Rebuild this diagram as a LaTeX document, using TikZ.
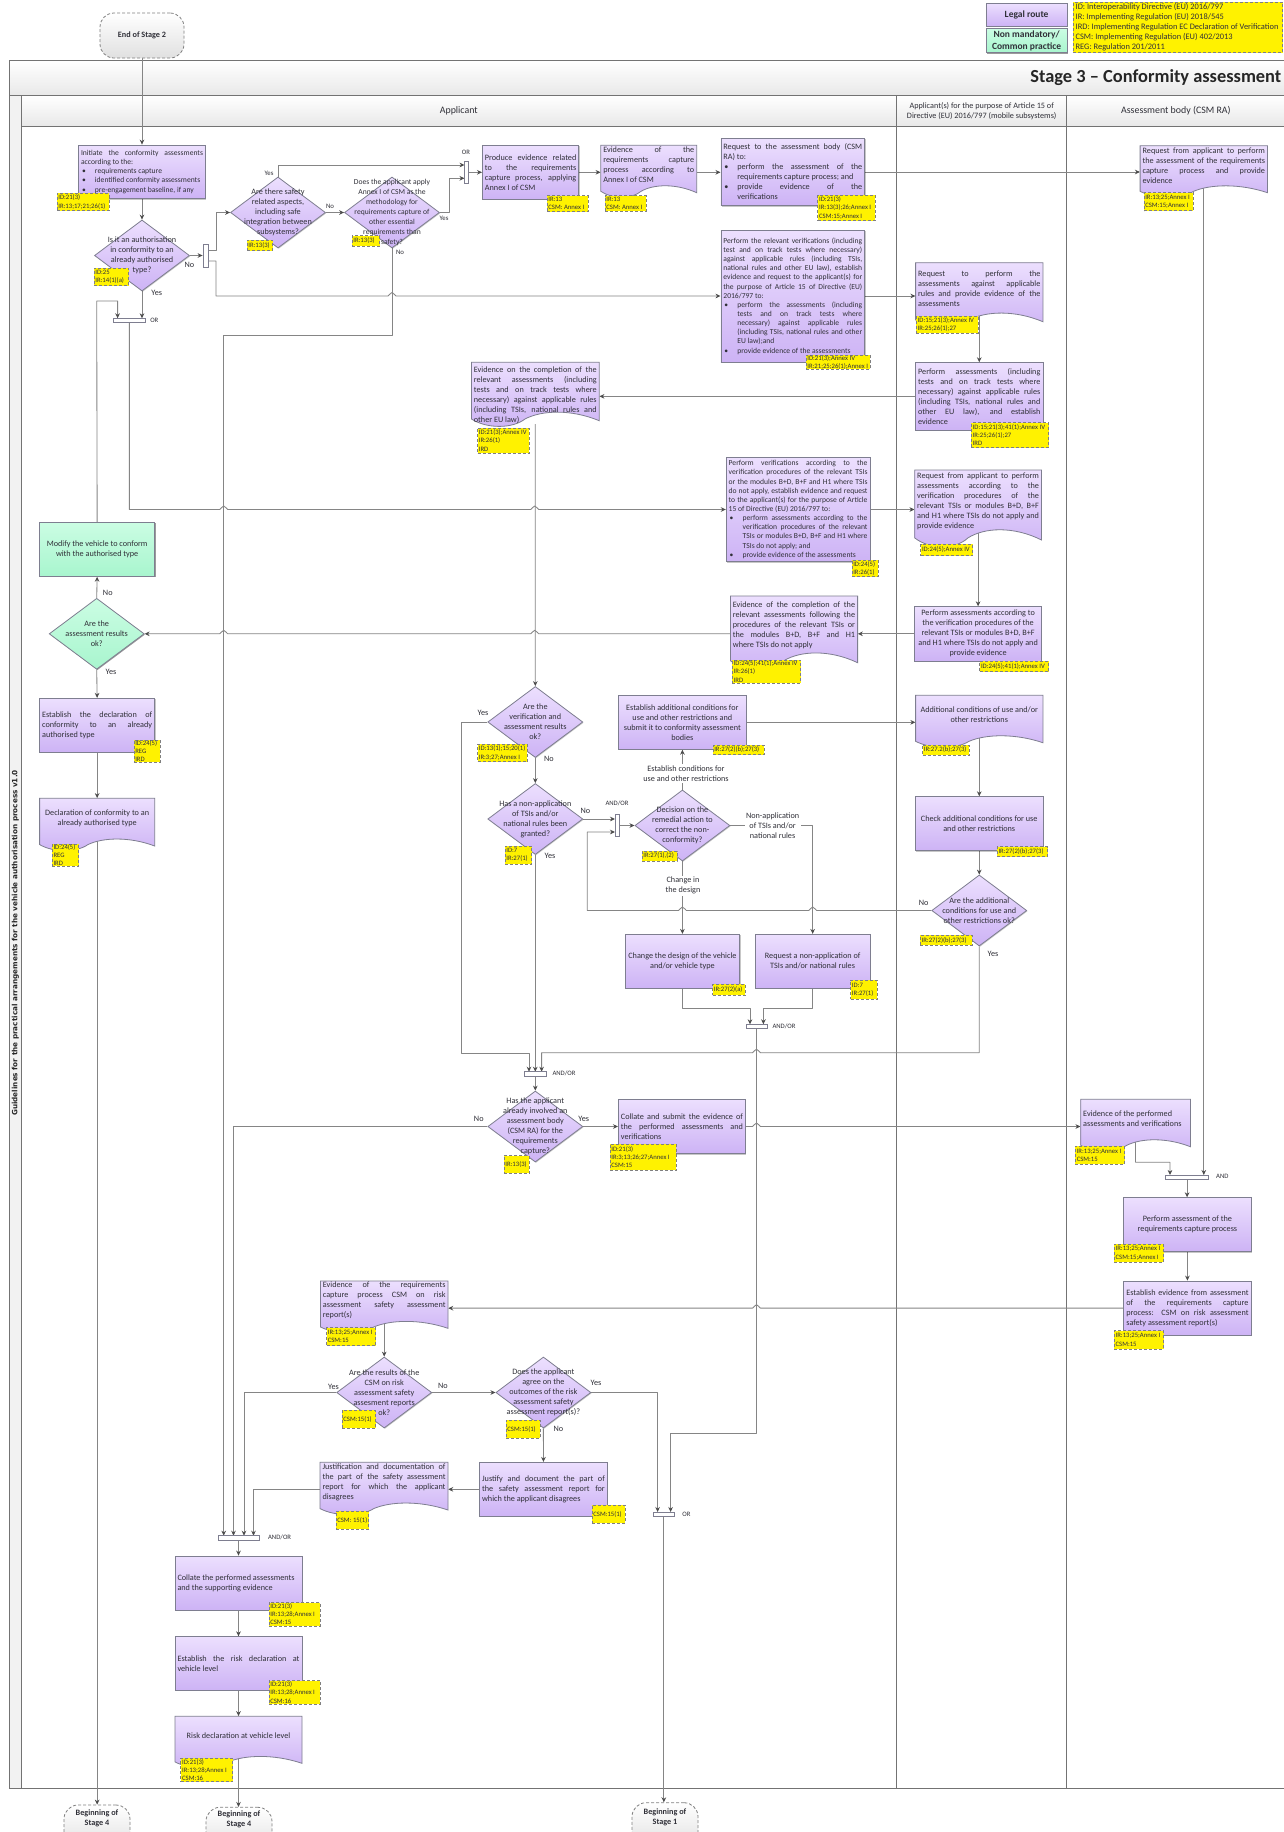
\documentclass[tikz,border=0pt]{standalone}
\usepackage{fontspec}
\setmainfont{Carlito}
\newfontfamily\rotfont{DejaVu Sans}
\usetikzlibrary{arrows.meta,shapes.geometric,shadows}
\pgfdeclarelayer{bgl}\pgfdeclarelayer{conl}\pgfsetlayers{bgl,conl,main}
\hyphenpenalty=10000 \exhyphenpenalty=10000 \tolerance=9999 \hbadness=10000 \hfuzz=30pt
\newcommand\fBody{\fontsize{8.2}{10}\selectfont}
\newcommand\fTight{\fontsize{7.6}{9.15}\selectfont}
\newcommand\fTag{\fontsize{6.7}{8.2}\selectfont}
\newcommand\fGate{\fontsize{6.7}{8}\selectfont}
\newcommand\fSmall{\fontsize{6.8}{8}\selectfont}
\newcommand\LB{\linebreak}
\newcommand\bul{\par\noindent\hangindent=14pt\hangafter=1\makebox[14pt][l]{\hspace{1pt}\textbullet}}
\definecolor{lilT}{HTML}{ECDFFE}
\definecolor{lilB}{HTML}{CDB3F5}
\definecolor{grT}{HTML}{CBFDE3}
\definecolor{grB}{HTML}{A8F5CE}
\definecolor{edge}{HTML}{7E7E90}
\definecolor{cnc}{HTML}{858585}
\definecolor{txt}{HTML}{303038}
\tikzset{
 pbox/.style={rectangle,draw=edge,line width=.8pt,top color=lilT,bottom color=lilB,inner sep=0pt,inner xsep=2.5pt,align=justify,font=\fBody,text=txt,
   drop shadow={shadow xshift=.8pt,shadow yshift=-.8pt,fill=black,opacity=.22}},
 gbox/.style={pbox,top color=grT,bottom color=grB},
 cbox/.style={align=center,text width={}},
 dshape/.style={draw=edge,line width=.8pt,top color=lilT,bottom color=lilB},
 dtext/.style={rectangle,inner sep=0pt,inner xsep=2.5pt,align=justify,font=\fBody,text=txt},
 dia/.style={diamond,shape aspect=1.338,minimum width=95pt,minimum height=71pt,inner sep=0pt,draw=edge,line width=.8pt,top color=lilT,bottom color=lilB,
   drop shadow={shadow xshift=.8pt,shadow yshift=-.8pt,fill=black,opacity=.22}},
 gdia/.style={dia,top color=grT,bottom color=grB},
 diat/.style={inner sep=0pt,align=center,font=\fBody,text=txt},
 tagr/.style={rectangle,inner sep=0pt,fill=yellow,draw=gray,line width=.7pt,dash pattern=on 3pt off 2pt},
 tagt/.style={inner sep=0pt,inner xsep=1.5pt,align=left,font=\fTag,text=txt,anchor=west},
 gate/.style={rectangle,inner sep=0pt,draw=edge,line width=.8pt,fill=white},
 cn/.style={draw=cnc,line width=.85pt,line join=round},
 ar/.style={cn,-{Stealth[length=5pt,width=4.6pt,color=black!70]}},
 lb/.style={inner sep=0pt,font=\fBody,text=txt,align=center},
 lbs/.style={lb,font=\fSmall},
 lbg/.style={lb,font=\fGate},
 lbw/.style={inner sep=1.5pt,fill=white,font=\fBody,text=txt,align=center},
 term/.style={rectangle,rounded corners=14pt,draw=gray,line width=.8pt,dash pattern=on 3pt off 2pt,top color=white,bottom color=black!12,inner sep=0pt},
 termt/.style={inner sep=0pt,align=center,font=\fBody\bfseries,text=txt},
 fr/.style={draw=black!55,line width=.9pt},
 lane/.style={inner sep=0pt,align=center,text=txt},
}
\newcommand\calc[4]{\pgfmathsetmacro\bW{#3-#1}\pgfmathsetmacro\bH{#4-#2}\pgfmathsetmacro\bX{(#1+#3)/2}\pgfmathsetmacro\bY{(#2+#4)/2}\pgfmathsetmacro\bT{\bW-5}}
\newcommand\procbox[7][]{\calc{#3}{#4}{#5}{#6}\node[pbox,minimum width=\bW pt,minimum height=\bH pt,text width=\bT pt,#1] (#2) at (\bX,\bY) {#7};}
\newcommand\docbox[7][]{\calc{#3}{#4}{#5}{#6}%
 \path[dshape] (#3,#4) -- (#5,#4) -- (#5,#6) .. controls ({#5-.22*\bW},{#6-.2*\bH}) and ({#3+.55*\bW},{#6-.18*\bH}) .. ({#3+.42*\bW},{#6-.03*\bH}) .. controls ({#3+.32*\bW},{#6+.14*\bH}) and ({#3+.12*\bW},{#6+.14*\bH}) .. (#3,{#6-.03*\bH}) -- cycle;
 \pgfmathsetmacro\bH{\bH-8}\pgfmathsetmacro\bY{#4+\bH/2}%
 \node[dtext,minimum width=\bW pt,minimum height=\bH pt,text width=\bT pt,#1] (#2) at (\bX,\bY) {#7};}
\newcommand\dianode[5][]{\node[dia,#1] (#2) at (#3,#4) {}; \node[diat] (#2-t) at (#2.center) {#5};}
\newcommand\tagn[6]{\calc{#2}{#3}{#4}{#5}\node[tagr,minimum width=\bW pt,minimum height=\bH pt] (#1) at (\bX,\bY) {}; \node[tagt] (#1-t) at (#1.west) {#6};}
\newcommand\gatenode[5]{\calc{#2}{#3}{#4}{#5}\node[gate,minimum width=\bW pt,minimum height=\bH pt] (#1) at (\bX,\bY) {};}
\newcommand\termnode[7]{\calc{#2}{#3}{#4}{#5}\node[term,minimum width=\bW pt,minimum height=\bH pt] (#1) at (\bX,\bY) {}; \node[termt] (#1-t) at (\bX,#6) {#7};}
\newcommand\hopR[2]{-- ({#1-4},#2) .. controls ({#1-2.5},#2) and ({#1-2.2},{#2-3.5}) .. (#1,{#2-3.5}) .. controls ({#1+2.2},{#2-3.5}) and ({#1+2.5},#2) .. ({#1+4},#2)}
\newcommand\hopL[2]{-- ({#1+4},#2) .. controls ({#1+2.5},#2) and ({#1+2.2},{#2-3.5}) .. (#1,{#2-3.5}) .. controls ({#1-2.2},{#2-3.5}) and ({#1-2.5},#2) .. ({#1-4},#2)}
\begin{document}
\begin{tikzpicture}[x=1pt,y=-1pt]
\useasboundingbox (0,0) rectangle (1284,1832);
% frame
\begin{pgfonlayer}{bgl}
\fill[white] (0,0) rectangle (1284,1832);
\path[fr,fill=black!5] (9.4,95.7) rectangle (21.2,1788.3);
\path[fr,top color=white,bottom color=black!9] (9.4,60) rectangle (1300,95.7);
\path[fr,top color=white,bottom color=black!9] (21.2,95.7) rectangle (1300,126.7);
\draw[fr] (9.4,95.7) rectangle (1300,1788.3);
\draw[fr] (21.2,95.7) -- (21.2,1788.3);
\draw[fr] (896.6,95.7) -- (896.6,1788.3);
\draw[fr] (1066.3,95.7) -- (1066.3,1788.3);
\end{pgfonlayer}
\node[lane,font=\fontsize{18.4}{20}\selectfont\bfseries,anchor=east,text=black!85] (title) at (1281.5,78) {Stage 3 – Conformity assessment};
\node[lane,font=\fontsize{9.9}{12}\selectfont] (lnA) at (458.8,111) {Applicant};
\node[lane,font=\fontsize{8.2}{10}\selectfont] (lnB) at (981.7,111) {Applicant(s) for the purpose of Article 15 of\\Directive (EU) 2016/797 (mobile subsystems)};
\node[lane,font=\fontsize{9.9}{12}\selectfont] (lnC) at (1175.9,111) {Assessment body (CSM RA)};
\node[lane,rotate=90,font=\rotfont\fontsize{7.26}{8}\selectfont\bfseries,text=black!85] (rot) at (15.3,943) {Guidelines for the practical arrangements for the vehicle authorisation process v1.0};
% legend
\procbox[cbox,font=\fontsize{9.5}{12}\selectfont\bfseries]{lgA}{986.2}{3.3}{1067}{26}{Legal route}
\procbox[gbox,cbox,font=\fontsize{9.5}{12}\selectfont\bfseries]{lgB}{986.2}{28.3}{1067}{52.7}{Non mandatory/\\Common practice}
\calc{1073.3}{2.3}{1282.7}{52.7}
\node[tagr,minimum width=\bW pt,minimum height=\bH pt] (lgC) at (\bX,\bY) {};
\node[tagt,inner xsep=2.5pt,font=\fontsize{8.4}{10}\selectfont] (lgC-t) at (lgC.west) {ID: Interoperability Directive (EU) 2016/797\\IR: Implementing Regulation (EU) 2018/545\\IRD: Implementing Regulation EC Declaration of Verification\\CSM: Implementing Regulation (EU) 402/2013\\REG: Regulation 201/2011};
% terminators
\termnode{st2}{100}{13}{184}{58}{35.5}{End of Stage 2}
\termnode{benA}{64}{1805}{130}{1850}{1818.5}{Beginning of\\Stage 4}
\termnode{benB}{206}{1807.3}{272}{1852}{1819.5}{Beginning of\\Stage 4}
\termnode{benC}{632}{1802.7}{698}{1848}{1817}{Beginning of\\Stage 1}
% process / documents
\procbox[font=\fTight]{init}{78.5}{145}{205.5}{198.7}{Initiate the conformity assessments\LB according to the:\bul requirements capture\bul identified conformity assessments\bul pre-engagement baseline, if any\par}
\dianode{dA}{142}{255.5}{Is it an authorisation\\in conformity to an\\already authorised\\type?}
\dianode{dB}{278}{212.5}{Are there safety\\related aspects,\\including safe\\integration between\\subsystems?}
\dianode{dC}{392}{212.5}{\fTight Does the applicant apply\\\fTight Annex I of CSM as the\\\fTight methodology for\\\fTight requirements capture of\\\fTight other essential\\\fTight requirements than\\\fTight safety?}
\procbox{prod}{482.4}{145.3}{578.8}{199.3}{Produce evidence related\LB to the requirements\LB capture process, applying\LB Annex I of CSM}
\docbox{evA}{600.8}{145.3}{696.7}{192.7}{Evidence of the\LB requirements capture\LB process according to\LB Annex I of CSM}
\procbox{reqA}{720.9}{138.3}{864.7}{205.7}{Request to the assessment body (CSM\LB RA) to:\bul perform the assessment of the\LB requirements capture process; and\bul provide evidence of the\LB verifications\par}
\docbox{reqB}{1140.1}{145.7}{1267.5}{192.7}{Request from applicant to perform\LB the assessment of the requirements\LB capture process and provide\LB evidence}
\procbox[font=\fTight]{relev}{720.9}{230}{864.7}{362}{Perform the relevant verifications (including\LB test and on track tests where necessary)\LB against applicable rules (including TSIs,\LB national rules and other EU law), establish\LB evidence and request to the applicant(s) for\LB the purpose of Article 15 of Directive (EU)\LB 2016/797 to:\bul perform the assessments (including\LB tests and on track tests where\LB necessary) against applicable rules\LB (including TSIs, national rules and other\LB EU law);and\bul provide evidence of the assessments\par}
\docbox{rB}{915.6}{262.7}{1042.9}{321.7}{Request to perform the\LB assessments against applicable\LB rules and provide evidence of the\LB assessments}
\procbox{pa}{915.6}{362.7}{1042.9}{430}{Perform assessments (including\LB tests and on track tests where\LB necessary) against applicable rules\LB (including TSIs, national rules and\LB other EU law), and establish\LB evidence}
\docbox[yshift=-8pt]{evB}{471.4}{362.3}{599.2}{420.7}{Evidence on the completion of the\LB relevant assessments (including\LB tests and on track tests where\LB necessary) against applicable rules\LB (including TSIs, national rules and\LB other EU law)}
\procbox[font=\fTight]{verif}{726.2}{457.3}{870}{561.7}{Perform verifications according to the\LB verification procedures of the relevant TSIs\LB or the modules B+D, B+F and H1 where TSIs\LB do not apply, establish evidence and request\LB to the applicant(s) for the purpose of Article\LB 15 of Directive (EU) 2016/797 to:\bul perform assessments according to the\LB verification procedures of the relevant\LB TSIs or modules B+D, B+F and H1 where\LB TSIs do not apply; and\bul provide evidence of the assessments\par}
\docbox{rC}{914.7}{470}{1041.5}{540}{Request from applicant to perform\LB assessments according to the\LB verification procedures of the\LB relevant TSIs or modules B+D, B+F\LB and H1 where TSIs do not apply and\LB provide evidence}
\procbox[cbox]{pb}{914.7}{606.7}{1041.5}{660.9}{Perform assessments according to\\the verification procedures of the\\relevant TSIs or modules B+D, B+F\\and H1 where TSIs do not apply and\\provide evidence}
\docbox{evC}{730.4}{596}{857.6}{662.7}{Evidence of the completion of the\LB relevant assessments following the\LB procedures of the relevant TSIs or\LB the modules B+D, B+F and H1\LB where TSIs do not apply}
\procbox[gbox,cbox]{modi}{39.6}{522.3}{154.7}{576.3}{Modify the vehicle to conform\\with the authorised type}
\dianode[gdia]{dG}{96.7}{633.8}{Are the\\assessment results\\ok?}
\procbox{estA}{39.6}{698.3}{154.7}{752.3}{Establish the declaration of\LB conformity to an already\LB authorised type}
\docbox[cbox]{decl}{39.6}{798.3}{154.7}{846}{Declaration of conformity to an\\already authorised type}
\dianode{dV}{535.3}{722}{Are the\\verification and\\assessment results\\ok?}
\dianode{dN}{535.3}{819}{Has a non-application\\of TSIs and/or\\national rules been\\granted?}
\procbox[cbox]{addB}{618.7}{695.3}{746}{749.3}{Establish additional conditions for\\use and other restrictions and\\submit it to conformity assessment\\bodies}
\docbox[cbox]{addC}{915.6}{695.3}{1042.9}{742.7}{Additional conditions of use and/or\\other restrictions}
\procbox[cbox]{chk}{915.6}{796.7}{1042.9}{850.7}{Check additional conditions for use\\and other restrictions}
\dianode{dC2}{979.25}{910.5}{Are the additional\\conditions for use and\\other restrictions ok?}
\dianode{dD}{682.4}{825.5}{Decision on the\\remedial action to\\correct the non-\\conformity?}
\procbox[cbox]{chg}{625}{934.3}{739.8}{988.3}{Change the design of the vehicle\\and/or vehicle type}
\procbox[cbox]{reqC}{755.3}{934.3}{870}{988.3}{Request a non-application of\\TSIs and/or national rules}
\dianode{dH}{535.3}{1126.5}{Has the applicant\\already involved an\\assessment body\\(CSM RA) for the\\requirements\\capture?}
\procbox{col}{618.4}{1099.3}{745.5}{1153.7}{Collate and submit the evidence of\LB the performed assessments and\LB verifications}
\docbox{evP}{1080.7}{1099.3}{1190.4}{1146.7}{Evidence of the performed\\assessments and verifications}
\procbox[cbox]{pe}{1123.8}{1197.7}{1251}{1251.7}{Perform assessment of the\\requirements capture process}
\procbox{es}{1123.8}{1281}{1251}{1335.3}{Establish evidence from assessment\LB of the requirements capture\LB process: CSM on risk assessment\LB safety assessment report(s)}
\docbox{evQ}{320.4}{1281}{448}{1328.3}{Evidence of the requirements\LB capture process CSM on risk\LB assessment safety assessment\LB report(s)}
\dianode{dR}{384.2}{1392.5}{Are the results of the\\CSM on risk\\assessment safety\\assesment reports\\ok?}
\dianode{dS}{543.4}{1392.5}{Does the applicant\\agree on the\\outcomes of the risk\\assessment safety\\assessment report(s)?}
\docbox{jd}{320}{1462.3}{448}{1510}{Justification and documentation of\LB the part of the safety assessment\LB report for which the applicant\LB disagrees}
\procbox{just}{479.6}{1462.3}{607.3}{1516.3}{Justify and document the part of\LB the safety assessment report for\LB which the applicant disagrees}
\procbox{cp}{175}{1556}{302}{1610}{Collate the performed assessments\\and the supporting evidence}
\procbox{rk}{175}{1636.7}{302}{1690.3}{Establish the risk declaration at\LB vehicle level}
\docbox[cbox]{rd}{175}{1716.3}{302}{1763.3}{Risk declaration at vehicle level}
% gates
\gatenode{gA}{203}{244}{208}{267}
\gatenode{gB}{464.5}{161}{468.6}{183.6}
\gatenode{gC}{113}{318.3}{145.7}{322.7}
\gatenode{gD}{615}{814.3}{619}{836.7}
\gatenode{gE}{524.6}{1071.7}{546}{1076}
\gatenode{gF}{746}{1024.3}{767}{1028.7}
\gatenode{gG}{1165.6}{1175}{1208.6}{1179}
\gatenode{gH}{218}{1535.7}{259}{1540}
\gatenode{gJ}{653}{1512}{674.7}{1516.7}
% coordinates of connector ends on gates
\coordinate (gAa) at (208,250); \coordinate (gAb) at (208,261);
\coordinate (gBa) at (464.5,165); \coordinate (gBb) at (464.5,178.3);
\coordinate (gCa) at (117.6,318.3); \coordinate (gCb) at (142,318.3);
\coordinate (gDa) at (615,819); \coordinate (gDb) at (615,832);
\coordinate (gEa) at (529,1071.7); \coordinate (gEb) at (535.3,1071.7); \coordinate (gEc) at (541.6,1071.7);
\coordinate (gFa) at (750,1024.3); \coordinate (gFb) at (763.4,1024.3);
\coordinate (gGa) at (1170,1175); \coordinate (gGb) at (1203.8,1175);
\coordinate (gHa) at (223.7,1535.7); \coordinate (gHb) at (233.5,1535.7); \coordinate (gHc) at (244,1535.7); \coordinate (gHd) at (253.5,1535.7);
\coordinate (gJa) at (657.6,1512); \coordinate (gJb) at (670.6,1512);
% connectors
\begin{pgfonlayer}{conl}
\draw[ar] (st2.south) -- (st2.south |- init.north);
\draw[ar] (init.south) -- (dA.north);
\draw[ar] (dA.east) -- (gA.west);
\draw[ar] (gAa) -- (216,250) |- (dB.west);
\draw[ar] (gAb) -- (216,261) -- (216,296) \hopR{392}{296} -- (relev.west);
\draw[ar] (dB.north) |- (gBa);
\draw[ar] (dB.east) -- (dC.west);
\draw[ar] (dC.east) -- (449,212.5) |- (gBb);
\draw[ar] (dC.south) -- (392,335.7) -- (223.7,335.7) -- (gHa);
\draw[ar] (gB.east) -- (prod.west);
\draw[ar] (prod.east) -- (prod.east -| evA.west);
\draw[ar] (prod.east -| evA.east) -- (prod.east -| reqA.west);
\draw[ar] (reqA.east) -- (reqA.east -| reqB.west);
\draw[ar] (reqB.south) -- (gGb);
\draw[ar] (relev.east) -- (relev.east -| rB.west);
\draw[ar] (rB.south) -- (pa.north);
\draw[ar] (pa.west) -- (pa.west -| evB.east);
\draw[ar] (evB.south) -- (dV.north);
\draw[ar] (dA.south) -- (gCb);
\draw[ar] (modi.north) -- (96.7,301) -- (117.6,301) -- (gCa);
\draw[ar] (gC.south) -- (129.35,509.5) \hopR{223.7}{509.5} \hopR{534.7}{509.5} -- (verif.west);
\draw[ar] (verif.east) -- (verif.east -| rC.west);
\draw[ar] (rC.south) -- (pb.north);
\draw[ar] (pb.west) -- (pb.west -| evC.east);
\draw[ar] (pb.west -| evC.west) \hopL{534.7}{633.8} \hopL{223.7}{633.8} -- (dG.east);
\draw[ar] (dG.north) -- (modi.south);
\draw[ar] (dG.south) -- (estA.north);
\draw[ar] (estA.south) -- (decl.north);
\draw[ar] (decl.south) -- (decl.south |- benA.north);
\draw[ar] (dV.south) -- (dN.north);
\draw[ar] (dV.west) -- (461.8,722) -- (461.8,1053.3) -- (529,1053.3) -- (gEa);
\draw[ar] (dN.south) -- (gEb);
\draw[ar] (dN.east) -- (gDa);
\draw[ar] (gD.east) -- (dD.west);
\draw[ar] (dD.north) -- (dD.north |- addB.south);
\draw[ar] (addB.east) -- (addB.east -| addC.west);
\draw[ar] (addC.south) -- (chk.north);
\draw[ar] (chk.south) -- (dC2.north);
\draw[ar] (dC2.west) \hopL{812.65}{910.5} \hopL{682.4}{910.5} -- (587.3,910.5) -- (587.3,832) -- (gDb);
\draw[ar] (dC2.south) -- (979.25,1052.7) \hopL{756.5}{1052.7} -- (541.6,1052.7) -- (gEc);
\draw[ar] (dD.south) -- (dD.south |- chg.north);
\draw[ar] (dD.east) -| (reqC.north);
\draw[ar] (chg.south) |- (750,1008.3) -- (gFa);
\draw[ar] (reqC.south) |- (763.4,1008.3) -- (gFb);
\draw[ar] (gF.south) -- (756.5,1433.3) -- (670.6,1433.3) -- (gJb);
\draw[ar] (gE.south) -- (dH.north);
\draw[ar] (dH.west) -- (233.5,1126.5) -- (gHb);
\draw[ar] (dH.east) -- (col.west);
\draw[ar] (col.east) \hopR{756.5}{1126.5} -- (col.east -| evP.west);
\draw[ar] (evP.south) -- (1135.55,1162.3) -- (1170,1162.3) -- (gGa);
\draw[ar] (gG.south) -- (gG.south |- pe.north);
\draw[ar] (pe.south) -- (es.north);
\draw[ar] (es.west) \hopL{756.5}{1308.15} -- (es.west -| evQ.east);
\draw[ar] (evQ.south) -- (dR.north);
\draw[ar] (dR.west) -- (244,1392.5) -- (gHc);
\draw[ar] (dR.east) -- (dS.west);
\draw[ar] (dS.east) -- (657.6,1392.5) -- (gJa);
\draw[ar] (dS.south) -- (just.north);
\draw[ar] (just.west) -- (just.west -| jd.east);
\draw[ar] (just.west -| jd.west) -- (253.5,1489.3) -- (gHd);
\draw[ar] (gH.south) -- (gH.south |- cp.north);
\draw[ar] (cp.south) -- (rk.north);
\draw[ar] (rk.south) -- (rd.north);
\draw[ar] (rd.south) -- (rd.south |- benB.north);
\draw[ar] (gJ.south) -- (gJ.south |- benC.north);
\end{pgfonlayer}
% connector labels
\node[lbs] (l1) at (269,173) {Yes};
\node[lbs] (l2) at (330,206) {No};
\node[lbs] (l3) at (444,218) {Yes};
\node[lbs] (l4) at (400,252) {No};
\node[lbg] (l5) at (466,152) {OR};
\node[lb] (l6) at (189.4,265) {No};
\node[lb] (l7) at (156.7,292.7) {Yes};
\node[lbg] (l8) at (154.3,320) {OR};
\node[lb] (l9) at (107.8,592.7) {No};
\node[lb] (l10) at (111,672) {Yes};
\node[lb] (l11) at (483,713) {Yes};
\node[lb] (l12) at (549,759) {No};
\node[lb] (l13) at (585.4,810.7) {No};
\node[lbg] (l14) at (617,803.7) {AND/OR};
\node[lb] (l15) at (550,855.7) {Yes};
\node[lbw] (l16) at (686,773.7) {Establish conditions for\\use and other restrictions};
\node[lbw] (l17) at (683,885.7) {Change in\\the design};
\node[lbw] (l18) at (772.6,825.5) {Non-application\\of TSIs and/or\\national rules};
\node[lb] (l19) at (923.7,902.7) {No};
\node[lb] (l20) at (993,954) {Yes};
\node[lbg] (l21) at (784,1026) {AND/OR};
\node[lbg] (l22) at (564,1073.3) {AND/OR};
\node[lb] (l23) at (478.8,1119) {No};
\node[lb] (l24) at (583.7,1119) {Yes};
\node[lbg] (l25) at (1222.3,1176.7) {AND};
\node[lb] (l26) at (333.5,1386.7) {Yes};
\node[lb] (l27) at (443,1386) {No};
\node[lb] (l28) at (596,1382.7) {Yes};
\node[lb] (l29) at (558.4,1429) {No};
\node[lbg] (l30) at (686.5,1514) {OR};
\node[lbg] (l31) at (279.6,1537.3) {AND/OR};
% legal reference tags
\tagn{tinit}{57}{193.3}{109}{210.7}{ID:21(3)\\IR:13;17;21;26(1)}
\tagn{tdA}{94}{268}{128.6}{285.7}{ID:25\\IR:14(1)(a)}
\tagn{tdB}{247}{240}{272.6}{250.7}{IR:13(3)}
\tagn{tdC}{352}{235.7}{379.6}{246}{IR:13(3)}
\tagn{tprod}{547}{195.7}{588}{211.7}{IR:13\\CSM: Annex I}
\tagn{tevA}{605}{195.7}{646}{211}{IR:13\\CSM: Annex I}
\tagn{treqA}{817.8}{195}{875}{220.7}{ID:21(3)\\IR:13(3);26;Annex I\\CSM:15;Annex I}
\tagn{treqB}{1143.9}{192.7}{1193.4}{210.7}{IR:13;25;Annex I\\CSM:15;Annex I}
\tagn{trelev}{806}{355}{870}{369.3}{ID:21(3);Annex IV\\IR:21;25;26(1);Annex I}
\tagn{trB}{916.4}{316}{978}{333.3}{ID:15;21(3);Annex IV\\IR:25;26(1);27}
\tagn{tpa}{971.4}{422.7}{1048.5}{447.7}{ID:15;21(3);41(1);Annex IV\\IR:25;26(1);27\\IRD}
\tagn{tevB}{477.5}{428}{529.4}{453}{ID:21(3);Annex IV\\IR:26(1)\\IRD}
\tagn{tverif}{851.9}{560}{878.2}{576.7}{ID:24(5)\\IR:26(1)}
\tagn{trC}{920.7}{544}{972.6}{555.7}{ID:24(5);Annex IV}
\tagn{tpb}{979.7}{661}{1048.5}{671.7}{ID:24(5);41(1);Annex IV}
\tagn{tevC}{732.4}{660}{800.6}{683}{ID:24(5);41(1);Annex IV\\IR:26(1)\\IRD}
\tagn{testA}{133.9}{740.3}{160}{762.3}{ID:24(5)\\REG\\IRD}
\tagn{tdecl}{52.2}{844}{78.8}{866}{ID:24(5)\\REG\\IRD}
\tagn{tdV}{477.5}{744.3}{527.3}{761.7}{ID:13(1);15;20(1)\\IR:3;27;Annex I}
\tagn{tdN}{505}{846}{531.8}{864.3}{ID:7\\IR:27(1)}
\tagn{taddB}{712.9}{745.3}{764}{754.7}{IR:27(2)(b);27(3)}
\tagn{taddC}{922.5}{745}{969.3}{755}{IR:27.2(b);27(3)}
\tagn{tchk}{997.2}{846.7}{1047.8}{856.7}{IR:27(2)(b);27(3)}
\tagn{tdC2}{920.3}{935}{972}{945}{IR:27(2)(b);27(3)}
\tagn{tdD}{642}{851}{677}{861}{IR:27(1),(2)}
\tagn{tchg}{712.5}{984.3}{745.4}{995}{IR:27(2)(a)}
\tagn{treqC}{850.6}{980}{877.4}{999}{ID:7\\IR:27(1)}
\tagn{tdH}{504}{1155.7}{529.4}{1173.3}{IR:13(3)}
\tagn{tcol}{610}{1144}{676.2}{1170.3}{ID:21(3)\\IR:3;13;26;27;Annex I\\CSM:15}
\tagn{tevP}{1075.4}{1146}{1124.6}{1164.3}{IR:13;25;Annex I\\CSM:15}
\tagn{tpe}{1114.3}{1244}{1163.6}{1262.3}{IR:13;25;Annex I\\CSM:15;Annex I}
\tagn{tes}{1114.3}{1330.7}{1163.6}{1349}{IR:13;25;Annex I\\CSM:15}
\tagn{tevQ}{326.5}{1327.7}{375.5}{1345.7}{IR:13;25;Annex I\\CSM:15}
\tagn{tdR}{342}{1410}{375.5}{1428.3}{CSM:15(1)}
\tagn{tdS}{506}{1420}{540}{1438.3}{CSM:15(1)}
\tagn{tjd}{336}{1511.3}{368.6}{1529.3}{CSM: 15(1)}
\tagn{tjust}{592}{1505}{625}{1523}{CSM:15(1)}
\tagn{tcp}{269}{1602.7}{320}{1626}{ID:21(3)\\IR:13;28;Annex I\\CSM:15}
\tagn{trk}{269}{1680.7}{320}{1704.3}{ID:21(3)\\IR:13;28;Annex I\\CSM:16}
\tagn{trd}{180.8}{1758.3}{232.7}{1781.7}{ID:21(3)\\IR:13;28;Annex I\\CSM:16}
\end{tikzpicture}
\end{document}
